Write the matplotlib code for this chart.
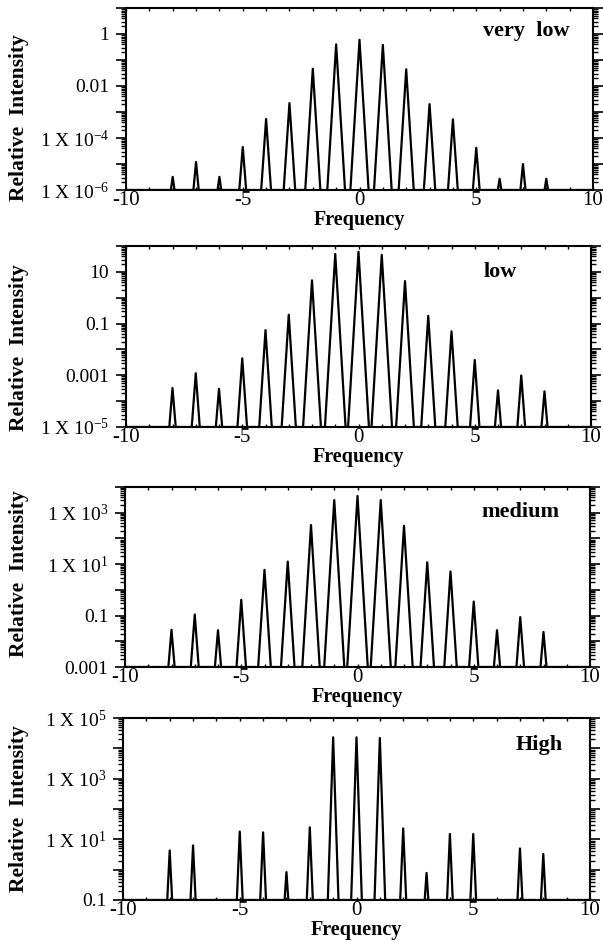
import matplotlib as mpl
mpl.use('Agg')
import numpy as np
import matplotlib.pyplot as plt
from matplotlib.ticker import LogLocator, NullFormatter, MultipleLocator

plt.rcParams['font.family'] = ['Liberation Serif', 'DejaVu Serif']
plt.rcParams['mathtext.fontset'] = 'custom'
plt.rcParams['mathtext.rm'] = 'Liberation Serif'
plt.rcParams['mathtext.it'] = 'Liberation Serif:italic'
plt.rcParams['mathtext.bf'] = 'Liberation Serif:bold'

# peak positions (frequency) and relative intensities
freq = [-8, -7, -6, -5, -4, -3, -2, -1, 0, 1, 2, 3, 4, 5, 6, 7, 8]
freq_high = [-8, -7, -5, -4, -3, -2, -1, 0, 1, 2, 3, 4, 5, 7, 8]

very_low = [3.2e-6, 1.2e-5, 3.2e-6, 4.5e-5, 5.4e-4, 2.2e-3, 0.046, 0.40, 0.60,
            0.38, 0.044, 2.0e-3, 5.2e-4, 4.2e-5, 2.7e-6, 1.0e-5, 2.7e-6]
low = [3.2e-4, 1.2e-3, 3.0e-4, 4.5e-3, 0.056, 0.22, 4.7, 49, 60,
       45, 4.4, 0.20, 0.050, 3.9e-3, 2.6e-4, 9.8e-4, 2.4e-4]
medium = [0.028, 0.11, 0.027, 0.41, 6.0, 12.6, 330, 3100, 4500,
          3100, 310, 11.8, 5.2, 0.35, 0.027, 0.087, 0.023]
high = [4.3, 6.3, 18, 17, 0.83, 25, 23000, 23000,
        22000, 23, 0.78, 15, 15, 5.0, 3.3]

names = ['very  low', 'low', 'medium', 'High']

# y range (decades) of each panel
ylims = [(-6, 1), (-5, 2), (-3, 4), (-1, 5)]
ytick_labels = [
    ['1 X 10$^{-6}$', '', '1 X 10$^{-4}$', '', '0.01', '', '1', ''],
    ['1 X 10$^{-5}$', '', '0.001', '', '0.1', '', '10', ''],
    ['0.001', '', '0.1', '', '1 X 10$^{1}$', '', '1 X 10$^{3}$', ''],
    ['0.1', '', '1 X 10$^{1}$', '', '1 X 10$^{3}$', '', '1 X 10$^{5}$'],
]

# layout (pixels of a 603x941 figure): left, right, top, bottom
rects = [(126, 593, 8, 190), (126, 591, 246, 427), (125, 590, 487, 667), (123, 590, 718, 900)]
name_pos = [(0.765, 0.875), (0.768, 0.856), (0.766, 0.86), (0.84, 0.85)]
ylabel_y = [0.40, 0.44, 0.52, 0.50]
slopes = [17, 17, 17, 30]  # decades per frequency unit of the peak flanks

W, H = 603, 941
fig = plt.figure(figsize=(W / 100, H / 100), dpi=100)

panels = [(freq, very_low), (freq, low), (freq, medium), (freq_high, high)]

for i, (pos, vals) in enumerate(panels):
    l, r, t, b = rects[i]
    ax = fig.add_axes([l / W, 1 - b / H, (r - l) / W, (b - t) / H])
    lo, hi = ylims[i]
    ymin = 10.0 ** lo
    # build the triangular peaks (straight flanks on the log axis)
    xs = [-10]
    ys = [ymin]
    for p, h in zip(pos, vals):
        hw = 0.05 + np.log10(h / ymin) / slopes[i]
        xs += [p - hw, p, p + hw]
        ys += [ymin, h, ymin]
    xs.append(10)
    ys.append(ymin)
    ax.plot(xs, ys, color='black', lw=1.6)

    ax.set_yscale('log')
    ax.set_xlim(-10, 10)
    ax.set_ylim(ymin, 10.0 ** hi)
    ax.set_yticks([10.0 ** d for d in range(lo, hi + 1)])
    ax.set_yticklabels(ytick_labels[i], fontsize=14)
    ax.yaxis.set_minor_locator(LogLocator(base=10, subs=np.arange(2, 10), numticks=20))
    ax.yaxis.set_minor_formatter(NullFormatter())
    ax.tick_params(axis='y', which='major', direction='out', length=7, width=1.2,
                   right=True, pad=5)
    ax.tick_params(axis='y', which='minor', direction='out', length=3.5, width=1.0, right=True)

    ax.set_xticks([-10, -5, 0, 5, 10])
    ax.set_xticklabels(['-10', '-5', '0', '5', '10'], fontsize=15)
    ax.xaxis.set_minor_locator(MultipleLocator(1))
    ax.tick_params(axis='x', which='both', direction='in', length=2.5, width=1.0,
                   top=True, pad=1)

    for s in ax.spines.values():
        s.set_linewidth(1.5)

    ax.set_xlabel('Frequency', fontsize=14.5, fontweight='bold', labelpad=0)
    ax.set_ylabel('Relative  Intensity', fontsize=15.5, fontweight='bold')
    ax.yaxis.set_label_coords((29 - l) / (r - l), ylabel_y[i])

    ax.text(name_pos[i][0], name_pos[i][1], names[i], transform=ax.transAxes,
            fontsize=16, fontweight='bold', ha='left', va='center')

fig.savefig('out.png', dpi=100)
